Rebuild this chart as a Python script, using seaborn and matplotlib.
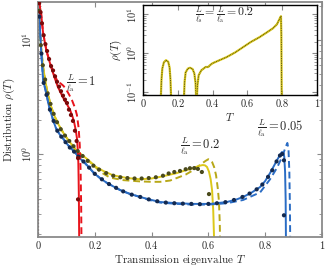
import numpy as np
import pandas as pd
import matplotlib
matplotlib.use("Agg")
import matplotlib.pyplot as plt
import seaborn as sns

# ---------------- data ----------------
# L/l_a = 1 (red)
T_red = [0.003, 0.006, 0.011, 0.018, 0.03, 0.046, 0.058, 0.070, 0.081, 0.092, 0.103, 0.113,
         0.121, 0.127, 0.133, 0.137, 0.140, 0.142, 0.143, 0.144, 0.145]
rho_red = [22, 20, 17, 11.5, 8.0, 5.8, 4.7, 3.87, 3.4, 3.0, 2.7, 2.43,
           2.15, 1.91, 1.62, 1.38, 1.1, 0.85, 0.6, 0.4, 0.18]
T_red_d = [0.003, 0.006, 0.011, 0.018, 0.03, 0.046, 0.058, 0.070, 0.080, 0.090, 0.100, 0.110,
           0.120, 0.130, 0.137, 0.143, 0.147, 0.150, 0.152, 0.153]
rho_red_d = [22, 20, 17, 11.5, 8.0, 5.9, 4.9, 4.3, 4.15, 3.95, 3.65, 3.3,
             2.95, 2.55, 2.2, 1.7, 1.2, 0.72, 0.35, 0.18]
T_red_pts = [0.004, 0.009, 0.014, 0.020, 0.026, 0.032, 0.039, 0.046, 0.053, 0.060, 0.067, 0.074,
             0.081, 0.088, 0.095, 0.102, 0.109, 0.116, 0.123, 0.130, 0.136, 0.141, 0.141]
rho_red_pts = [21, 17.5, 14, 11, 9.2, 8.0, 6.8, 5.9, 5.4, 4.8, 4.3, 3.9,
               3.55, 3.25, 3.0, 2.8, 2.45, 2.2, 1.95, 1.6, 1.3, 0.92, 0.40]

# L/l_a = 0.2 (yellow)
T_yel = [0.003, 0.007, 0.012, 0.018, 0.025, 0.032, 0.046, 0.060, 0.074, 0.09, 0.106, 0.12,
         0.134, 0.15, 0.169, 0.185, 0.204, 0.23, 0.264, 0.313, 0.359, 0.40, 0.43, 0.46,
         0.489, 0.52, 0.546, 0.56, 0.570, 0.58, 0.588, 0.595, 0.602, 0.608, 0.613, 0.617, 0.620]
rho_yel = [22, 11.5, 8.0, 5.8, 4.5, 3.6, 2.6, 2.1, 1.78, 1.52, 1.33, 1.2,
           1.08, 1.0, 0.92, 0.85, 0.77, 0.71, 0.65, 0.616, 0.60, 0.61, 0.63, 0.655,
           0.68, 0.72, 0.75, 0.775, 0.79, 0.80, 0.795, 0.77, 0.70, 0.60, 0.48, 0.32, 0.18]
T_yel_d = [0.003, 0.007, 0.012, 0.018, 0.025, 0.032, 0.046, 0.060, 0.074, 0.09, 0.106, 0.12,
           0.134, 0.15, 0.169, 0.185, 0.204, 0.218, 0.254, 0.30, 0.359, 0.40, 0.43, 0.465,
           0.489, 0.52, 0.546, 0.57, 0.59, 0.60, 0.607, 0.613, 0.62, 0.627, 0.633, 0.637, 0.640, 0.641]
rho_yel_d = [22, 11.5, 8.0, 5.8, 4.5, 3.6, 2.6, 2.1, 1.78, 1.52, 1.33, 1.2,
             1.08, 1.0, 0.92, 0.84, 0.76, 0.70, 0.62, 0.59, 0.575, 0.57, 0.57, 0.585,
             0.616, 0.66, 0.72, 0.80, 0.87, 0.90, 0.89, 0.85, 0.77, 0.65, 0.50, 0.39, 0.25, 0.18]
T_yel_pts = [0.004, 0.010, 0.017, 0.025, 0.034, 0.044, 0.055, 0.067, 0.08, 0.095, 0.11, 0.125,
             0.14, 0.157, 0.175, 0.195, 0.215, 0.24, 0.265, 0.29, 0.315, 0.34, 0.365, 0.39,
             0.415, 0.44, 0.46, 0.48, 0.50, 0.52, 0.535, 0.55, 0.563, 0.577, 0.602]
rho_yel_pts = [18, 9.0, 6.0, 4.5, 3.4, 2.75, 2.25, 1.9, 1.65, 1.45, 1.3, 1.17,
               1.06, 0.96, 0.87, 0.79, 0.73, 0.68, 0.645, 0.625, 0.615, 0.61, 0.61, 0.615,
               0.625, 0.645, 0.675, 0.695, 0.71, 0.735, 0.75, 0.752, 0.74, 0.695, 0.445]

# L/l_a = 0.05 (blue)
T_blu = [0.003, 0.006, 0.011, 0.018, 0.028, 0.039, 0.053, 0.063, 0.075, 0.092, 0.105, 0.123,
         0.140, 0.148, 0.16, 0.18, 0.197, 0.22, 0.243, 0.265, 0.289, 0.32, 0.359, 0.40,
         0.43, 0.489, 0.546, 0.606, 0.665, 0.70, 0.722, 0.75, 0.782, 0.80, 0.817, 0.83,
         0.842, 0.852, 0.859, 0.864, 0.867, 0.870, 0.872, 0.873]
rho_blu = [22, 14, 8.2, 4.45, 3.5, 2.6, 1.99, 1.69, 1.5, 1.33, 1.2, 1.08,
           0.97, 0.91, 0.86, 0.76, 0.68, 0.61, 0.557, 0.52, 0.483, 0.45, 0.42, 0.395,
           0.379, 0.37, 0.365, 0.365, 0.379, 0.40, 0.42, 0.455, 0.513, 0.58, 0.68, 0.78,
           0.886, 0.98, 1.04, 1.03, 0.95, 0.70, 0.40, 0.18]
T_blu_d = [0.003, 0.006, 0.011, 0.018, 0.028, 0.039, 0.053, 0.063, 0.075, 0.092, 0.105, 0.123,
           0.140, 0.148, 0.16, 0.18, 0.197, 0.22, 0.243, 0.265, 0.289, 0.32, 0.359, 0.40,
           0.43, 0.489, 0.546, 0.60, 0.665, 0.722, 0.782, 0.817, 0.842, 0.86, 0.872, 0.878,
           0.882, 0.885, 0.887, 0.888]
rho_blu_d = [22, 14, 8.2, 4.45, 3.5, 2.6, 1.99, 1.69, 1.5, 1.33, 1.2, 1.08,
             0.97, 0.91, 0.86, 0.76, 0.68, 0.61, 0.557, 0.52, 0.483, 0.45, 0.42, 0.39,
             0.375, 0.365, 0.36, 0.36, 0.37, 0.395, 0.46, 0.6, 0.76, 0.95, 1.15, 1.25,
             1.1, 0.7, 0.35, 0.18]
T_blu_pts = [0.005, 0.012, 0.02, 0.03, 0.042, 0.055, 0.068, 0.082, 0.097, 0.112, 0.127, 0.142,
             0.16, 0.18, 0.20, 0.225, 0.25, 0.275, 0.30, 0.33, 0.36, 0.39, 0.42, 0.45,
             0.48, 0.51, 0.54, 0.57, 0.60, 0.63, 0.66, 0.69, 0.72, 0.745, 0.77, 0.79,
             0.81, 0.825, 0.84, 0.852, 0.86, 0.866, 0.866]
rho_blu_pts = [16, 7.6, 4.2, 3.3, 2.45, 1.95, 1.6, 1.42, 1.27, 1.14, 1.05, 0.95,
               0.86, 0.76, 0.67, 0.60, 0.545, 0.505, 0.47, 0.44, 0.42, 0.40, 0.385, 0.375,
               0.37, 0.367, 0.365, 0.363, 0.365, 0.37, 0.378, 0.395, 0.42, 0.45, 0.49, 0.54,
               0.63, 0.72, 0.86, 0.97, 1.0, 0.88, 0.29]

# inset: L/l_s = L/l_a = 0.2
T_in_1 = [0.103, 0.106, 0.111, 0.12, 0.132, 0.145, 0.153, 0.158, 0.161]
rho_in_1 = [0.08, 0.2, 0.4, 0.58, 0.66, 0.6, 0.42, 0.2, 0.08]
T_in_2 = [0.236, 0.239, 0.245, 0.258, 0.27, 0.285, 0.295, 0.302, 0.305]
rho_in_2 = [0.08, 0.18, 0.32, 0.40, 0.42, 0.39, 0.30, 0.17, 0.08]
T_in_3 = [0.310, 0.313, 0.32, 0.335, 0.36, 0.375, 0.385, 0.40, 0.44, 0.48, 0.53, 0.575,
          0.62, 0.67, 0.71, 0.747, 0.77, 0.79, 0.793, 0.795, 0.796, 0.797]
rho_in_3 = [0.08, 0.15, 0.27, 0.36, 0.44, 0.44, 0.49, 0.55, 0.66, 0.79, 1.05, 1.43,
            1.95, 2.6, 3.4, 4.4, 5.6, 8.6, 9.0, 3.0, 0.5, 0.08]

xticks = [0, 0.2, 0.4, 0.6, 0.8, 1]
xticklabels = ["0", "0.2", "0.4", "0.6", "0.8", "1"]

# ---------------- style ----------------
sns.set_theme(style="ticks")
plt.rcParams.update({
    "font.family": "serif",
    "font.serif": ["cmr10", "DejaVu Serif"],
    "mathtext.fontset": "cm",
    "axes.formatter.use_mathtext": True,
    "axes.unicode_minus": False,
})

RED, RED_D = "#e8141c", "#7a0a0a"
YEL, YEL_D, YEL_P = "#dcc81a", "#b8a818", "#4a4a1c"
BLU, BLU_P = "#2a6cc4", "#13294f"
GRAY = "#8a8a8a"

fig = plt.figure(figsize=(3.29, 2.72), dpi=100)
ax = fig.add_axes([38/329, 1-237/272, 284/329, 235/272])

dash = (0, (3.5, 2))
def curve(axis, T, r, c, ls="-", lw=1.4):
    sns.lineplot(x=T, y=r, ax=axis, color=c, linestyle=ls, lw=lw, sort=False,
                 estimator=None, legend=False)

curve(ax, T_yel_d, rho_yel_d, YEL_D, dash)
curve(ax, T_yel, rho_yel, YEL)
curve(ax, T_blu_d, rho_blu_d, BLU, dash)
curve(ax, T_blu, rho_blu, BLU)
curve(ax, T_red_d, rho_red_d, RED, dash)
curve(ax, T_red, rho_red, RED)
for T, r, c in [(T_yel_pts, rho_yel_pts, YEL_P), (T_blu_pts, rho_blu_pts, BLU_P),
                (T_red_pts, rho_red_pts, RED_D)]:
    sns.scatterplot(x=T, y=r, ax=ax, color=c, s=9, edgecolor="none", zorder=5, legend=False)
ax.axvline(0, color="#330000", lw=0.8, ls=(0, (1.5, 1.5)), zorder=1)

ax.set_yscale("log")
ax.set_xlim(0, 1)
ax.set_ylim(10**-0.728, 10**1.333)
ax.set_xticks(xticks)
ax.set_xticklabels(xticklabels, fontsize=7.5)
ax.set_yticks([1, 10])
ax.set_yticklabels([r"$10^{0}$", r"$10^{1}$"], fontsize=7.5, rotation=90, va="center")
ax.yaxis.set_minor_locator(matplotlib.ticker.LogLocator(base=10, subs=np.arange(2, 10)))
ax.yaxis.set_minor_formatter(matplotlib.ticker.NullFormatter())
ax.tick_params(which="both", direction="in", top=True, right=True, color=GRAY, pad=3)
ax.tick_params(which="major", length=3.5, width=0.8)
ax.tick_params(which="minor", length=2, width=0.6)
for s in ax.spines.values():
    s.set_color(GRAY)
    s.set_linewidth(1.3)
ax.set_xlabel(r"Transmission eigenvalue $T$", fontsize=8, labelpad=2)
ax.set_ylabel(r"Distribution $\rho(T)$", fontsize=8, labelpad=2)

ax.text(0.097, 4.2, r"$\frac{L}{\ell_\mathrm{a}} = 1$", fontsize=9, ha="left", va="center")
ax.text(0.50, 1.17, r"$\frac{L}{\ell_\mathrm{a}} = 0.2$", fontsize=9, ha="left", va="center")
ax.text(0.77, 1.69, r"$\frac{L}{\ell_\mathrm{a}} = 0.05$", fontsize=9, ha="left", va="center")

# ---------------- inset ----------------
ins = fig.add_axes([143/329, 1-95/272, 174/329, 90/272])
ins.set_facecolor("white")
for T, r in [(T_in_1, rho_in_1), (T_in_2, rho_in_2), (T_in_3, rho_in_3)]:
    curve(ins, T, r, YEL, "-", 1.6)
    curve(ins, T, r, "#3a3a10", (0, (0.8, 1.0)), 0.7)
ins.set_yscale("log")
ins.set_xlim(0, 1)
ins.set_ylim(10**-1.08, 10**1.245)
ins.set_xticks(xticks)
ins.set_xticklabels(xticklabels, fontsize=7.5)
ins.set_yticks([0.1, 1, 10])
ins.set_yticklabels([r"$10^{-1}$", r"$10^{0}$", r"$10^{1}$"], fontsize=7.5, rotation=90, va="center")
ins.yaxis.set_minor_locator(matplotlib.ticker.LogLocator(base=10, subs=np.arange(2, 10)))
ins.yaxis.set_minor_formatter(matplotlib.ticker.NullFormatter())
ins.tick_params(which="both", direction="in", top=True, right=True, color=GRAY, pad=3)
ins.tick_params(which="major", length=3.5, width=0.8)
ins.tick_params(which="minor", length=2, width=0.6)
for s in ins.spines.values():
    s.set_color("black")
    s.set_linewidth(1.0)
ins.set_xlabel(r"$T$", fontsize=8, labelpad=2)
ins.set_ylabel(r"$\rho(T)$", fontsize=8, labelpad=1)
ins.text(0.30, 9.6, r"$\frac{L}{\ell_\mathrm{s}} = \frac{L}{\ell_\mathrm{a}} = 0.2$",
         fontsize=8.5, ha="left", va="center")

fig.savefig("out.png", dpi=100)
